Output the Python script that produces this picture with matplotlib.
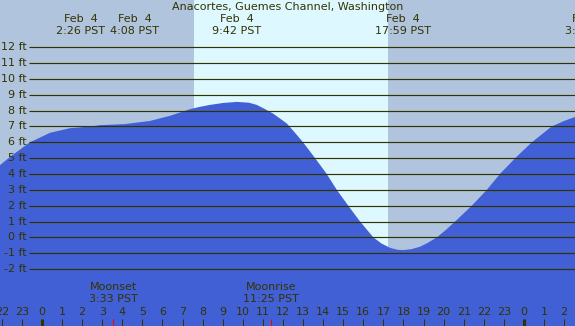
import matplotlib
matplotlib.use("Agg")
import matplotlib.pyplot as plt
import matplotlib.transforms as mtransforms
import numpy as np

# ---- data (hours relative to midnight Feb 4, heights in ft) ----
tide_hours = [-2.09, -1.59, -0.6, 0.4, 1.39, 2.43, 2.89, 4.13, 4.38, 5.38, 6.37,
              7.37, 7.87, 8.37, 9.0, 9.7, 10.3, 10.7, 11.1, 11.5, 12.19, 12.6,
              13.0, 13.6, 14.18, 14.68, 15.25, 15.84, 16.5, 16.9, 17.33, 17.7,
              17.98, 18.4, 18.82, 19.2, 19.66, 20.1, 20.57, 21.4, 22.15, 22.8,
              23.56, 24.39, 25.38, 26.0, 26.54]
tide_ft = [4.56, 5.08, 6.0, 6.6, 6.89, 7.0, 7.08, 7.15, 7.19, 7.35, 7.67,
           8.09, 8.24, 8.36, 8.48, 8.55, 8.5, 8.36, 8.1, 7.82, 7.19, 6.6,
           6.0, 5.0, 4.0, 3.0, 2.0, 1.0, 0.0, -0.38, -0.66, -0.78,
           -0.8, -0.74, -0.59, -0.35, 0.0, 0.46, 1.0, 2.0, 3.0, 4.0,
           5.0, 6.0, 7.0, 7.35, 7.6]

extreme_hours = [2 + 26/60, 4 + 8/60, 9 + 42/60, 17 + 59/60, 24 + 3 + 15/60]
extreme_labels = [("Feb  4", "2:26 PST"), ("Feb  4", "4:08 PST"),
                  ("Feb  4", "9:42 PST"), ("Feb  4", "17:59 PST"),
                  ("Feb  5", "3:15 PST")]

moon_hours = [3 + 33/60, 11 + 25/60]
moon_labels = [("Moonset", "3:33 PST"), ("Moonrise", "11:25 PST")]

sunrise = 7 + 34/60
sunset = 17 + 14/60

ft_levels = list(range(-2, 13))
hour_ticks = list(range(-2, 27))
title = "Anacortes, Guemes Channel, Washington"

# ---- style ----
night_col = "#B0C4DE"
day_col = "#DDF8FF"
fill_col = "#4160D6"
ink = "#333300"
fs = 8.0

W, H = 575, 326
fig = plt.figure(figsize=(W / 100, H / 100), dpi=100)
fig.patch.set_facecolor(night_col)
ax = fig.add_axes([0, 0, 1, 1])
ax.set_xlim(-2.09, 26.54)
ax.set_ylim(-5.59, 14.98)
ax.set_facecolor(night_col)
ax.axis("off")

# day band
ax.axvspan(sunrise, sunset, color=day_col, zorder=0, lw=0)

# tide fill
ax.fill_between(tide_hours, tide_ft, -10, color=fill_col, lw=0, zorder=1)

# y grid lines + labels
bt = mtransforms.blended_transform_factory(ax.transAxes, ax.transData)
for lv in ft_levels:
    ax.plot([29 / W, 1], [lv, lv], transform=bt, color=ink, lw=0.85, zorder=2,
            solid_capstyle="butt")
    ax.text(27 / W, lv, f"{lv} ft", transform=bt, ha="right", va="center",
            fontsize=fs, color=ink, zorder=3)

# pixel-based y transform (from top)
pt = mtransforms.blended_transform_factory(ax.transData, mtransforms.IdentityTransform())

def ypix(y_from_top):
    return H - y_from_top

# title
ax.text(0.5, ypix(7.5), title, transform=mtransforms.blended_transform_factory(
    ax.transAxes, mtransforms.IdentityTransform()), ha="center", va="center",
    fontsize=fs, color=ink, zorder=4)

# extreme labels, pushed apart if overlapping
label_w_hours = 54 / 20.08
centers = list(extreme_hours)
for i in range(len(centers) - 1):
    gap = centers[i + 1] - centers[i]
    if gap < label_w_hours:
        mid = (centers[i] + centers[i + 1]) / 2
        centers[i] = mid - label_w_hours / 2
        centers[i + 1] = mid + label_w_hours / 2
for c, (l1, l2) in zip(centers, extreme_labels):
    ax.text(c, ypix(19.5), l1, transform=pt, ha="center", va="center",
            fontsize=fs, color=ink, zorder=4)
    ax.text(c, ypix(31), l2, transform=pt, ha="center", va="center",
            fontsize=fs, color=ink, zorder=4)

# moon labels
for h, (l1, l2) in zip(moon_hours, moon_labels):
    ax.text(h, ypix(287), l1, transform=pt, ha="center", va="center",
            fontsize=fs, color=ink, zorder=4)
    ax.text(h, ypix(299), l2, transform=pt, ha="center", va="center",
            fontsize=fs, color=ink, zorder=4)

# hour labels and ticks
for h in hour_ticks:
    ax.text(h, ypix(312), str(h % 24), transform=pt, ha="center", va="center",
            fontsize=fs, color=ink, zorder=4)
    lw = 2.2 if h % 24 == 0 else 0.75
    ax.plot([h, h], [ypix(319), ypix(326)], transform=pt, color=ink, lw=lw,
            zorder=4, solid_capstyle="butt")
for h in moon_hours:
    ax.plot([h, h], [ypix(319), ypix(326)], transform=pt, color="#FF0000",
            lw=0.75, zorder=4, solid_capstyle="butt")

fig.savefig("out.png", dpi=100, facecolor=night_col)
